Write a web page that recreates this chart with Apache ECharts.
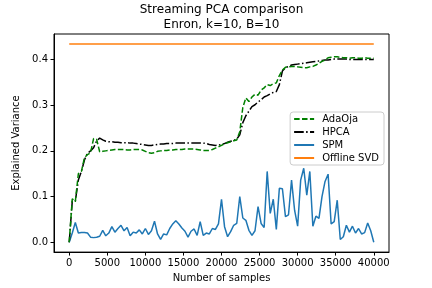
<!DOCTYPE html>
<html>
<head>
<meta charset="utf-8">
<script src="https://cdn.jsdelivr.net/npm/echarts@6/dist/echarts.min.js"></script>
<style>html,body{margin:0;padding:0;background:#fff;}#c{width:432px;height:288px;}</style>
</head>
<body>
<div id="c"></div>
<script>
const SAMPLE_STEP = 400;
const xTicks = [0, 5000, 10000, 15000, 20000, 25000, 30000, 35000, 40000];
const yTicks = [0.0, 0.1, 0.2, 0.3, 0.4];

const adaOja = [0.0,0.095,0.089,0.150,0.155,0.185,0.192,0.196,0.227,0.225,
0.198,0.199,0.200,0.201,0.202,0.203,0.203,0.203,0.203,0.202,
0.202,0.203,0.203,0.203,0.202,0.199,0.196,0.195,0.196,0.199,
0.200,0.201,0.201,0.202,0.202,0.203,0.203,0.203,0.204,0.204,
0.204,0.204,0.203,0.202,0.201,0.201,0.201,0.203,0.206,0.209,
0.212,0.216,0.218,0.220,0.222,0.224,0.242,0.295,0.316,0.308,
0.318,0.324,0.322,0.333,0.338,0.345,0.343,0.347,0.349,0.365,
0.377,0.383,0.384,0.385,0.385,0.384,0.383,0.382,0.382,0.384,
0.385,0.388,0.392,0.396,0.399,0.404,0.405,0.406,0.406,0.405,
0.404,0.404,0.403,0.404,0.404,0.403,0.403,0.404,0.403,0.403,0.403];

const hpca = [0.0,0.090,0.090,0.136,0.155,0.180,0.195,0.200,0.207,0.222,
0.228,0.224,0.221,0.220,0.220,0.219,0.219,0.218,0.218,0.218,
0.217,0.217,0.216,0.215,0.214,0.213,0.212,0.212,0.213,0.214,
0.215,0.215,0.216,0.216,0.216,0.217,0.217,0.217,0.217,0.217,
0.217,0.217,0.217,0.217,0.217,0.216,0.214,0.213,0.212,0.213,
0.214,0.216,0.219,0.221,0.223,0.226,0.235,0.262,0.277,0.287,
0.297,0.301,0.307,0.312,0.318,0.321,0.325,0.328,0.330,0.345,
0.375,0.382,0.385,0.388,0.389,0.390,0.391,0.392,0.393,0.394,
0.395,0.396,0.397,0.398,0.399,0.399,0.400,0.401,0.401,0.401,
0.401,0.401,0.400,0.400,0.400,0.400,0.400,0.400,0.400,0.400,0.400];

const spm = [0.0,0.020,0.043,0.020,0.021,0.021,0.020,0.011,0.010,0.011,
0.013,0.026,0.014,0.020,0.034,0.022,0.030,0.037,0.025,0.032,
0.014,0.022,0.020,0.027,0.018,0.030,0.017,0.025,0.046,0.018,
0.006,0.018,0.016,0.030,0.040,0.047,0.040,0.031,0.024,0.011,
0.024,0.029,0.015,0.045,0.015,0.020,0.018,0.030,0.028,0.040,
0.094,0.034,0.012,0.023,0.037,0.041,0.100,0.053,0.048,0.026,
0.015,0.025,0.078,0.041,0.032,0.155,0.063,0.094,0.028,0.118,
0.117,0.056,0.060,0.136,0.070,0.035,0.136,0.162,0.103,0.155,
0.035,0.057,0.052,0.100,0.133,0.149,0.040,0.045,0.092,0.006,
0.012,0.037,0.022,0.035,0.020,0.030,0.018,0.021,0.042,0.025,0.0];

const offlineSvd = [0.434, 0.434];
const offlineX = [0, 40000];

const toPairs = (vals) => vals.map((v, i) => [i * SAMPLE_STEP, v]);

const FONT = 'DejaVu Sans';
const chart = echarts.init(document.getElementById('c'), null, {renderer: 'canvas'});
chart.setOption({
  animation: false,
  backgroundColor: '#fff',
  title: {
    text: 'Streaming PCA comparison\nEnron, k=10, B=10',
    left: 221.5, textAlign: 'center', top: 2, padding: 0,
    textStyle: {fontFamily: FONT, fontSize: 12, fontWeight: 'normal', color: '#000', lineHeight: 15}
  },
  grid: {left: 54, right: 43, top: 34, bottom: 35, show: true, borderColor: '#000', borderWidth: 1, backgroundColor: 'transparent'},
  legend: {
    orient: 'vertical', right: 48, top: 112,
    itemWidth: 20, itemHeight: 12, itemGap: 3,
    padding: [2, 5, 2, 3],
    backgroundColor: 'rgba(255,255,255,0.8)', borderColor: '#ccc', borderWidth: 1, borderRadius: 3,
    itemStyle: {opacity: 0},
    textStyle: {fontFamily: FONT, fontSize: 10, color: '#000', padding: [0, 0, 0, 3]},
    data: ['AdaOja', 'HPCA', 'SPM', 'Offline SVD']
  },
  xAxis: {
    type: 'value', min: -2000, max: 42000,
    name: 'Number of samples', nameLocation: 'middle', nameGap: 19,
    nameTextStyle: {fontFamily: FONT, fontSize: 10, color: '#000'},
    axisLine: {show: true, onZero: false, lineStyle: {color: '#000', width: 1}},
    splitLine: {show: false},
    axisTick: {show: true, length: 3.5, inside: false, customValues: xTicks, lineStyle: {color: '#000'}},
    axisLabel: {customValues: xTicks, fontFamily: FONT, fontSize: 10, color: '#000', margin: 6, formatter: v => String(v)}
  },
  yAxis: {
    type: 'value', min: -0.0217, max: 0.456,
    name: 'Explained Variance', nameLocation: 'middle', nameGap: 20, nameRotate: 90,
    nameTextStyle: {fontFamily: FONT, fontSize: 10, color: '#000'},
    axisLine: {show: true, onZero: false, lineStyle: {color: '#000', width: 1}},
    splitLine: {show: false},
    axisTick: {show: true, length: 3.5, inside: false, customValues: yTicks, lineStyle: {color: '#000'}},
    axisLabel: {customValues: yTicks, fontFamily: FONT, fontSize: 10, color: '#000', margin: 6, formatter: v => v.toFixed(1)}
  },
  series: [
    {name: 'AdaOja', type: 'line', data: toPairs(adaOja), symbol: 'none', color: '#008000',
     lineStyle: {color: '#008000', width: 1.5, type: [5.5, 2.4]}, z: 4},
    {name: 'HPCA', type: 'line', data: toPairs(hpca), symbol: 'none', color: '#000',
     lineStyle: {color: '#000', width: 1.5, type: [9.6, 2.4, 1.5, 2.4]}, z: 3},
    {name: 'SPM', type: 'line', data: toPairs(spm), symbol: 'none', color: '#1f77b4',
     lineStyle: {color: '#1f77b4', width: 1.5}, z: 2},
    {name: 'Offline SVD', type: 'line', data: offlineX.map((x, i) => [x, offlineSvd[i]]), symbol: 'none', color: '#ff7f0e',
     lineStyle: {color: '#ff7f0e', width: 1.5}, z: 1}
  ]
});
</script>
</body>
</html>
